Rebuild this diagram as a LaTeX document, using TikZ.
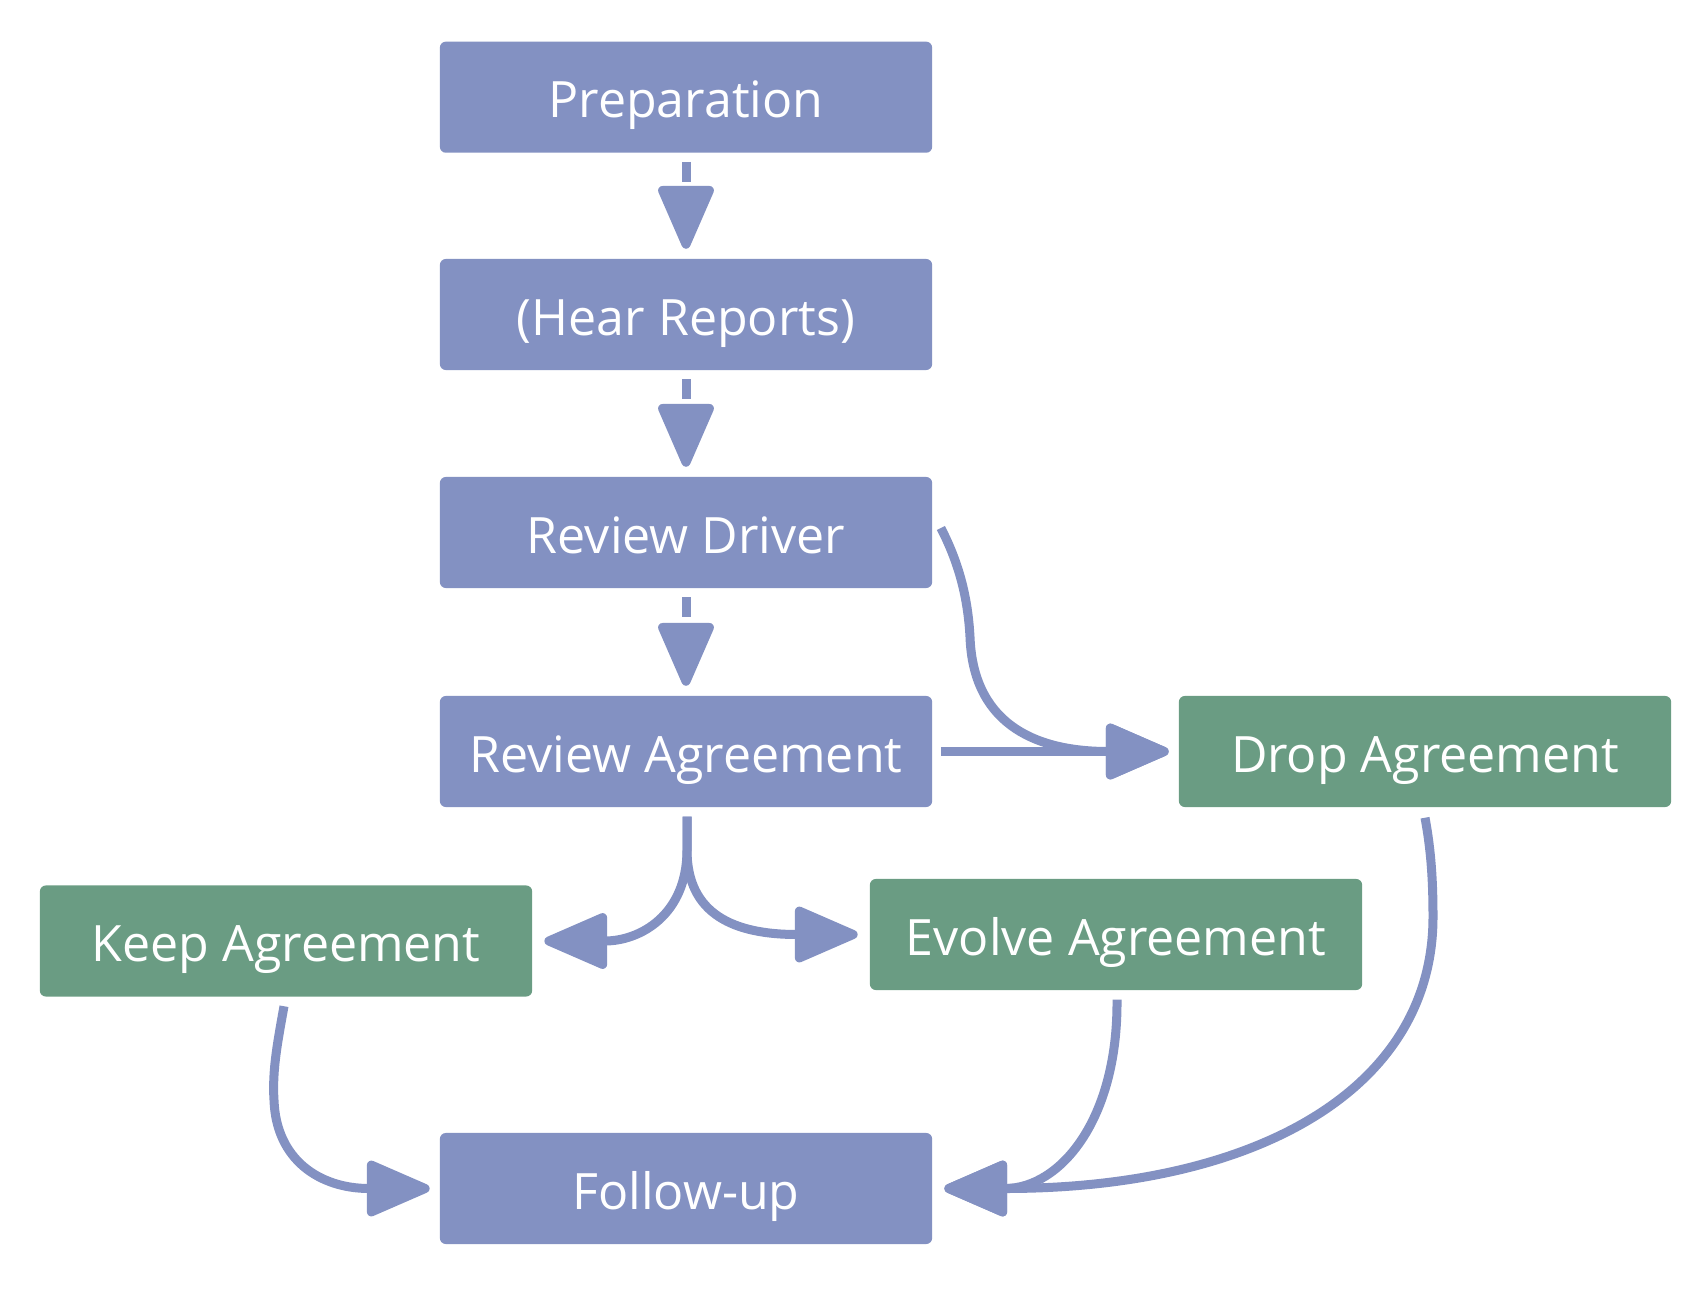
\documentclass[tikz,border=0pt]{standalone}
\usepackage{fontspec}
\setmainfont{Open Sans}
\usetikzlibrary{arrows.meta,calc}
\definecolor{nodeblue}{RGB}{131,145,194}
\definecolor{nodegreen}{RGB}{106,156,131}
\begin{document}
\begin{tikzpicture}[x=0.01cm,y=-0.01cm,
  box/.style={rectangle, rounded corners=1.7pt, minimum width=4.92cm, minimum height=1.11cm, inner sep=0pt, text=white, text height=11.7pt, text depth=0pt, font=\fontsize{14.25}{16}\selectfont},
  bluebox/.style={box, fill=nodeblue},
  greenbox/.style={box, fill=nodegreen},
  conn/.style={draw=nodeblue, line width=0.09cm, -{Triangle[length=0.70cm, width=0.58cm, round, sep=0.065cm]}},
  dashconn/.style={conn, dash pattern=on 0.2cm off 0.3cm}
]
\useasboundingbox (0,0) rectangle (1700,1300);
\node[bluebox] (prep) at (686,97.2) {Preparation};
\node[bluebox] (hear) at (686,314.5) {(Hear Reports)};
\node[bluebox] (driver) at (686,532.5) {Review Driver};
\node[bluebox] (revagr) at (686,751.5) {Review Agreement};
\node[greenbox] (drop) at (1425,751.5) {Drop Agreement};
\node[greenbox] (keep) at (286,941) {Keep Agreement};
\node[greenbox] (evolve) at (1116,934.5) {Evolve Agreement};
\node[bluebox] (follow) at (686,1188.5) {Follow-up};

\draw[dashconn, shorten >=0.03cm] ($(prep.south)+(0,8.5)$) -- (hear.north);
\draw[dashconn, shorten >=0.03cm] ($(hear.south)+(0,8.5)$) -- (driver.north);
\draw[dashconn, shorten >=0.03cm] ($(driver.south)+(0,8.5)$) -- (revagr.north);
\draw[conn, shorten >=0.03cm] ($(revagr.east)+(8,0)$) -- (drop.west);
\draw[conn] ($(driver.east)+(8,-4.5)$) .. controls (960,565) and (968,600) .. (970,637)
  .. controls (973,720) and (1030,751.5) .. ($(drop.west)+(-3,0)$);
\draw[conn] ($(revagr.south)+(1,9)$) -- (687,850) .. controls (687,915) and (640,941) .. ($(keep.east)+(5,0)$);
\draw[conn] ($(revagr.south)+(1,9)$) -- (687,850) .. controls (687,915) and (735,934.5) .. ($(evolve.west)+(-5,0)$);
\draw[conn] ($(keep.south)+(-2,9)$) .. controls (278,1040) and (272,1070) .. (274,1100)
  .. controls (276,1160) and (320,1188.5) .. ($(follow.west)+(-3,0)$);
\draw[conn] ($(evolve.south)+(1,9)$) .. controls (1118,1120) and (1060,1188.5) .. ($(follow.east)+(5,0)$);
\draw[conn] ($(drop.south)+(0,10)$) .. controls (1431,850) and (1433,880) .. (1433,917)
  .. controls (1433,1090) and (1255,1188.5) .. ($(follow.east)+(5,0)$);
\end{tikzpicture}
\end{document}
